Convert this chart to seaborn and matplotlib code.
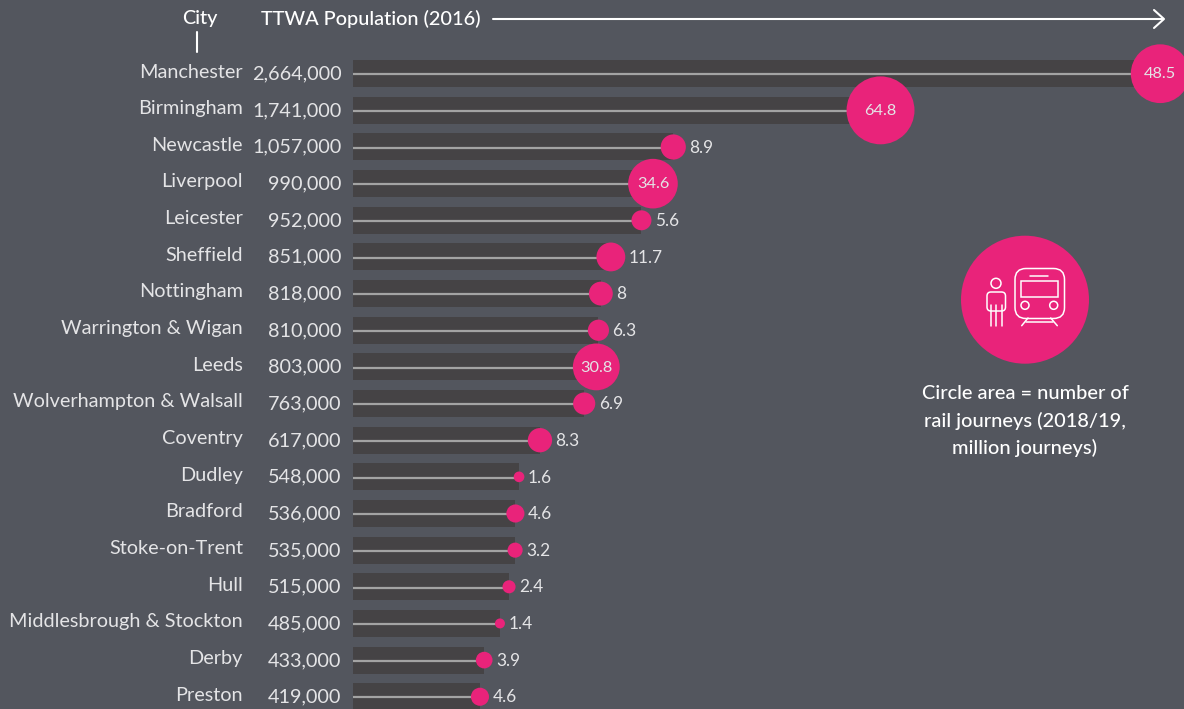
import numpy as np
import pandas as pd
import seaborn as sns
import matplotlib.pyplot as plt
from matplotlib.patches import Circle, FancyBboxPatch, Rectangle

cities = ["Manchester", "Birmingham", "Newcastle", "Liverpool", "Leicester", "Sheffield",
          "Nottingham", "Warrington & Wigan", "Leeds", "Wolverhampton & Walsall", "Coventry",
          "Dudley", "Bradford", "Stoke-on-Trent", "Hull", "Middlesbrough & Stockton",
          "Derby", "Preston"]
population = [2664000, 1741000, 1057000, 990000, 952000, 851000, 818000, 810000, 803000,
              763000, 617000, 548000, 536000, 535000, 515000, 485000, 433000, 419000]
journeys = [48.5, 64.8, 8.9, 34.6, 5.6, 11.7, 8, 6.3, 30.8, 6.9, 8.3, 1.6, 4.6, 3.2, 2.4,
            1.4, 3.9, 4.6]

BG = "#53565e"
BAR = "#454345"
PINK = "#e9237a"
LINE = "#a3a3a3"
TXT = "#e4e4e6"
WHITE = "#ffffff"

sns.set_theme(style="white")
plt.rcParams["font.family"] = ["Lato", "DejaVu Sans"]
plt.rcParams["axes.facecolor"] = BG
plt.rcParams["figure.facecolor"] = BG

df = pd.DataFrame({"city": cities, "population": population, "journeys": journeys})

fig = plt.figure(figsize=(11.84, 7.09), dpi=100)
ax = fig.add_axes([0, 0, 1, 1])

# px per person, row spacing and where things start on the picture
PX = 3.03e-4
ROW = 36.65
X0 = 353
Y0 = 73.7

sns.barplot(data=df, x="population", y="city", color=BAR, saturation=1, width=27 / ROW,
            orient="h", ax=ax, zorder=1, linewidth=0, edgecolor="none")
ax.hlines(np.arange(len(df)) + 0.02, 0, df["population"], color=LINE, lw=1.6, zorder=2)

# circle area follows journeys
K = 36.9
sns.scatterplot(data=df, x="population", y="city", size="journeys",
                sizes=(K * df["journeys"].min(), K * df["journeys"].max()),
                size_norm=(df["journeys"].min(), df["journeys"].max()),
                color=PINK, linewidth=0, legend=False, ax=ax, zorder=3, clip_on=False)

ax.set_xlim(-X0 / PX, (1184 - X0) / PX)
ax.set_ylim((709 - Y0) / ROW, -Y0 / ROW)
ax.set_xlabel("")
ax.set_ylabel("")
ax.set_xticks([])
ax.set_yticks([])
sns.despine(ax=ax, left=True, bottom=True)

for i, row in df.iterrows():
    ax.annotate(row["city"], (0, i), xytext=(-110 * 0.72, 1.2), textcoords="offset points",
                ha="right", va="center", color=TXT, fontsize=14.3)
    ax.annotate(f"{row['population']:,}", (0, i), xytext=(-11.5 * 0.72, -0.2), textcoords="offset points",
                ha="right", va="center", color=TXT, fontsize=14.3)
    j = row["journeys"]
    label = f"{j:g}"
    if j >= 30:
        ax.annotate(label, (row["population"], i), xytext=(0, -0.5), textcoords="offset points",
                    ha="center", va="center", color=TXT, fontsize=11.8, zorder=5)
    else:
        r = np.sqrt(17.8 * j)
        ax.annotate(label, (row["population"], i), xytext=((r + 3.5) * 0.72, -0.5), textcoords="offset points",
                    ha="left", va="center", color=TXT, fontsize=12.4, zorder=5)

# header and icon, drawn in picture pixels
ov = fig.add_axes([0, 0, 1, 1], facecolor="none")
ov.set_xlim(0, 1184)
ov.set_ylim(709, 0)
ov.axis("off")

ov.text(199.5, 18.5, "City", ha="center", va="center", color=WHITE, fontsize=14.3, fontweight="medium")
ov.text(261, 18.5, "TTWA Population (2016)", ha="left", va="center", color=WHITE, fontsize=14.3,
        fontweight="medium")
ov.plot([197, 197], [32, 52], color=WHITE, lw=1.5)
ov.plot([493, 1163], [19, 19], color=WHITE, lw=1.5)
ov.plot([1154, 1164, 1154], [10, 19, 28], color=WHITE, lw=1.5)

ov.add_patch(Circle((1025, 299.7), 64, color=PINK, lw=0))
ic = dict(color=WHITE, lw=1.1, solid_capstyle="round")
ov.add_patch(Circle((996, 283.3), 5, fill=False, ec=WHITE, lw=1.1))
ov.add_patch(FancyBboxPatch((987, 292), 18.5, 19, boxstyle="round,pad=0,rounding_size=4", fill=False,
                            ec=WHITE, lw=1.1))
for x in [990.5, 996, 1001.5]:
    ov.plot([x, x], [305, 325.5], **ic)
ov.add_patch(FancyBboxPatch((1015, 268.5), 49.5, 50, boxstyle="round,pad=0,rounding_size=11", fill=False,
                            ec=WHITE, lw=1.1))
ov.add_patch(Rectangle((1020.7, 281), 37.6, 16.3, fill=False, ec=WHITE, lw=1.1))
ov.plot([1030, 1048.3], [275.7, 275.7], **ic)
ov.add_patch(Circle((1025, 305.3), 4, fill=False, ec=WHITE, lw=1.1))
ov.add_patch(Circle((1053.7, 305.3), 4, fill=False, ec=WHITE, lw=1.1))
ov.plot([1028, 1021.7], [318, 325.7], **ic)
ov.plot([1050.7, 1057.3], [318, 325.7], **ic)
ov.plot([1026, 1053], [321.5, 321.5], **ic)

for y, s in zip([393.5, 420.5, 447.5], ["Circle area = number of", "rail journeys (2018/19,", "million journeys)"]):
    ov.text(1025, y, s, ha="center", va="center", color=WHITE, fontsize=14.4, fontweight="medium")

fig.savefig("out.png", dpi=100, facecolor=BG)
